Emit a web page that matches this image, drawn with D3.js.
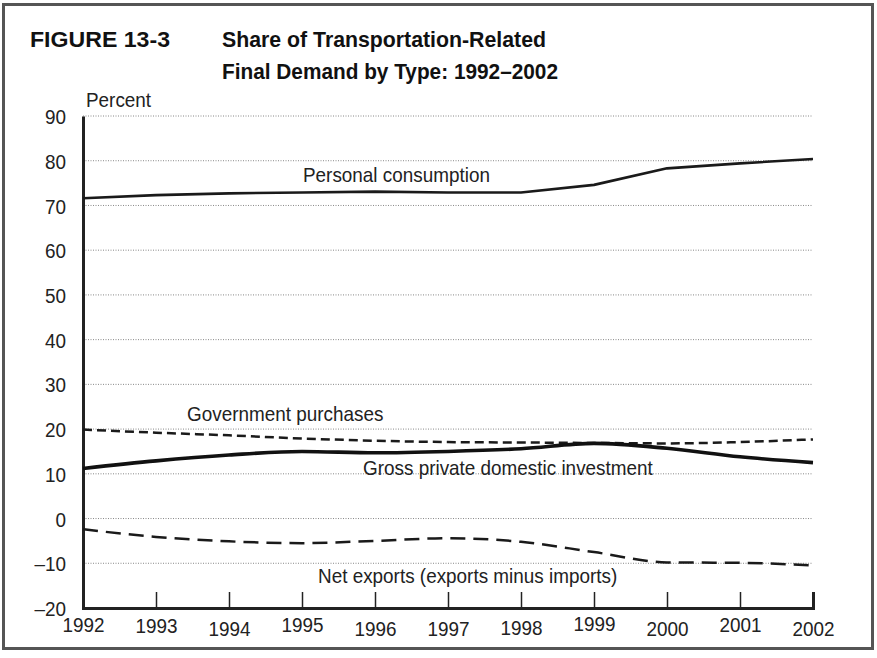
<!DOCTYPE html>
<html>
<head>
<meta charset="utf-8">
<script src="https://cdn.jsdelivr.net/npm/d3@7"></script>
<style>
  html, body { margin: 0; padding: 0; background: #fff; }
  svg { display: block; }
  .cond { font-family: "Liberation Sans", Arial, sans-serif; font-size: 21px; fill: #222; }
  .title { font-family: "Liberation Sans", Arial, sans-serif; font-weight: bold; font-size: 22px; fill: #111; }
</style>
</head>
<body>
<script>
const years = [1992, 1993, 1994, 1995, 1996, 1997, 1998, 1999, 2000, 2001, 2002];
const personalConsumption = [71.6, 72.3, 72.7, 72.9, 73.1, 72.9, 72.9, 74.6, 78.3, 79.4, 80.4];
const governmentPurchases = [19.9, 19.2, 18.6, 17.9, 17.4, 17.1, 17.0, 16.9, 16.8, 17.1, 17.7];
const grossPrivateInvestment = [11.2, 12.9, 14.2, 15.0, 14.7, 15.0, 15.6, 16.8, 15.7, 13.8, 12.5];
const netExports = [-2.4, -4.1, -5.1, -5.5, -5.0, -4.4, -5.2, -7.5, -9.8, -9.9, -10.5];
const yTicks = [90, 80, 70, 60, 50, 40, 30, 20, 10, 0, -10, -20];
const yTickLabels = ["90", "80", "70", "60", "50", "40", "30", "20", "10", "0", "\u201310", "\u201320"];
const seriesNames = ["Personal consumption", "Government purchases", "Gross private domestic investment", "Net exports (exports minus imports)"];

const W = 877, H = 658;
const SX = 0.9; // horizontal condensing of body text
const svg = d3.select("body").append("svg").attr("width", W).attr("height", H);

// outer frame
svg.append("rect").attr("x", 3.5).attr("y", 4.5).attr("width", 869).attr("height", 644)
  .attr("fill", "none").attr("stroke", "#555").attr("stroke-width", 3);

// title
svg.append("text").attr("class", "title").attr("x", 30).attr("y", 47)
  .attr("textLength", 140).attr("lengthAdjust", "spacingAndGlyphs").text("FIGURE 13-3");
svg.append("text").attr("class", "title").attr("x", 222).attr("y", 47)
  .attr("textLength", 324).attr("lengthAdjust", "spacingAndGlyphs").text("Share of Transportation-Related");
svg.append("text").attr("class", "title").attr("x", 222).attr("y", 79)
  .attr("textLength", 336).attr("lengthAdjust", "spacingAndGlyphs").text("Final Demand by Type: 1992\u20132002");

const x = d3.scaleLinear().domain([1992, 2002]).range([83, 813]);
const y = d3.scaleLinear().domain([-20, 90]).range([608, 116]);

// gridlines
svg.append("g").selectAll("line").data(yTicks.filter(v => v > -20)).join("line")
  .attr("x1", x(1992)).attr("x2", x(2002))
  .attr("y1", d => y(d)).attr("y2", d => y(d))
  .attr("stroke", "#888").attr("stroke-width", 1).attr("stroke-dasharray", "1,1.5");

// y axis
const yAxis = d3.axisLeft(y).tickValues(yTicks).tickSize(0).tickPadding(17)
  .tickFormat((d, i) => yTickLabels[i]);
const gy = svg.append("g").attr("transform", `translate(${x(1992)},0)`).call(yAxis);
gy.select(".domain").attr("stroke", "#222").attr("stroke-width", 3);
gy.selectAll("text").attr("class", "cond").attr("font-size", null).attr("font-family", null)
  .attr("fill", "#222").attr("x", 0).attr("dy", "0.36em")
  .attr("transform", `translate(-17,0) scale(${SX},1)`);

// x axis, ticks pointing up
const labelShift = [0, 1, 4, 0, 4, 4, 3, -1, 4, 0, 4];
const xAxis = d3.axisBottom(x).tickValues(years).tickSize(-16).tickPadding(0).tickFormat(d3.format("d"));
const gx = svg.append("g").attr("transform", `translate(0,${y(-20)})`).call(xAxis);
gx.select(".domain").attr("stroke", "#222").attr("stroke-width", 3);
gx.selectAll(".tick line").attr("stroke", "#222").attr("stroke-width", 1.5);
gx.selectAll(".tick").filter(d => d === 1992).select("line").remove();
gx.selectAll("text").attr("class", "cond").attr("font-size", null).attr("font-family", null)
  .attr("fill", "#222").attr("dy", null).attr("y", 0)
  .attr("transform", (d, i) => `translate(0,${24 + labelShift[i]}) scale(${SX},1)`);

// Percent label
svg.append("text").attr("class", "cond").attr("transform", `translate(86,107) scale(${SX},1)`).text("Percent");

const lineLinear = d3.line().x((d, i) => x(years[i])).y(d => y(d));
const lineSmooth = d3.line().x((d, i) => x(years[i])).y(d => y(d)).curve(d3.curveMonotoneX);

svg.append("path").datum(personalConsumption).attr("d", lineLinear)
  .attr("fill", "none").attr("stroke", "#1a1a1a").attr("stroke-width", 2.6).attr("stroke-linejoin", "round");
svg.append("path").datum(governmentPurchases).attr("d", lineSmooth)
  .attr("fill", "none").attr("stroke", "#1a1a1a").attr("stroke-width", 2.5).attr("stroke-dasharray", "9,5");
svg.append("path").datum(grossPrivateInvestment).attr("d", lineSmooth)
  .attr("fill", "none").attr("stroke", "#111").attr("stroke-width", 3.6);
svg.append("path").datum(netExports).attr("d", lineSmooth)
  .attr("fill", "none").attr("stroke", "#1a1a1a").attr("stroke-width", 2.5).attr("stroke-dasharray", "15,8");

// series labels
const lab = [
  {t: seriesNames[0], x: 303, y: 182},
  {t: seriesNames[1], x: 187, y: 421},
  {t: seriesNames[2], x: 363, y: 475},
  {t: seriesNames[3], x: 318, y: 583}
];
svg.append("g").selectAll("text").data(lab).join("text")
  .attr("class", "cond").attr("transform", d => `translate(${d.x},${d.y}) scale(${SX},1)`).text(d => d.t);
</script>
</body>
</html>
